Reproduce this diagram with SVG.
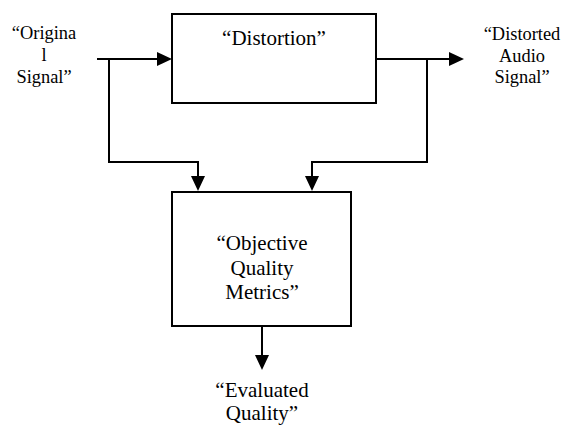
<svg xmlns="http://www.w3.org/2000/svg" width="563" height="425" viewBox="0 0 563 425">
<style>
.box{fill:#fff;stroke:#000;stroke-width:2}
.ln{fill:none;stroke:#000;stroke-width:2}
.ah{fill:#000;stroke:none}
text{font-family:"Liberation Serif","Times New Roman",serif;fill:#000;text-anchor:middle}
.big{font-size:21px}
.sm{font-size:18.4px}
</style>
<rect width="563" height="425" fill="#fff"/>
<g id="connectors">
<path class="ln" d="M97,59 H158"/>
<polygon class="ah" points="172,59 157,52 157,66"/>
<path class="ln" d="M109,59 V162 H198 V177"/>
<polygon class="ah" points="198,191 191,176 205,176"/>
<path class="ln" d="M376,59 H450"/>
<polygon class="ah" points="464,59 449,52 449,66"/>
<path class="ln" d="M427,59 V162 H312 V177"/>
<polygon class="ah" points="312,191 305,176 319,176"/>
<path class="ln" d="M262,326 V356"/>
<polygon class="ah" points="262,370 255,355 269,355"/>
</g>
<g id="distortion">
<rect class="box" x="172" y="14" width="204" height="89"/>
<text class="big" x="274" y="45">“Distortion”</text>
</g>
<g id="metrics">
<rect class="box" x="172" y="192" width="179" height="134"/>
<text class="big" x="262" y="250">“Objective<tspan x="262" dy="24.5">Quality</tspan><tspan x="262" dy="24.5">Metrics”</tspan></text>
</g>
<g id="original">
<text class="sm" x="44" y="39">“Origina<tspan x="44" dy="22">l</tspan><tspan x="44" dy="22">Signal”</tspan></text>
</g>
<g id="distorted">
<text class="sm" x="522" y="40">“Distorted<tspan x="522" dy="22">Audio</tspan><tspan x="522" dy="21">Signal”</tspan></text>
</g>
<g id="evaluated">
<text class="big" x="262" y="397">“Evaluated<tspan x="262" dy="22.5">Quality”</tspan></text>
</g>
</svg>
